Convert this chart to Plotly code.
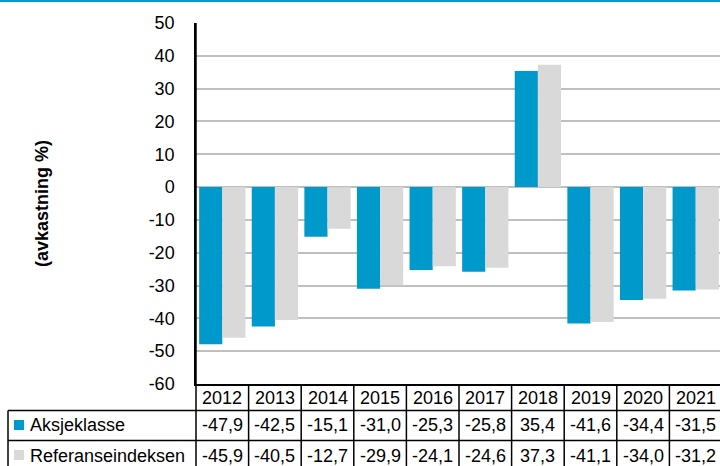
import plotly.graph_objects as go

years = ["2012", "2013", "2014", "2015", "2016", "2017", "2018", "2019", "2020", "2021"]
aksjeklasse = [-47.9, -42.5, -15.1, -31.0, -25.3, -25.8, 35.4, -41.6, -34.4, -31.5]
referanse = [-45.9, -40.5, -12.7, -29.9, -24.1, -24.6, 37.3, -41.1, -34.0, -31.2]
series_names = ["Aksjeklasse", "Referanseindeksen"]
y_title = "(avkastning %)"
y_ticks = [-60, -50, -40, -30, -20, -10, 0, 10, 20, 30, 40, 50]
y_tick_labels = ["-60", "-50", "-40", "-30", "-20", "-10", "0", "10", "20", "30", "40", "50"]

BLUE = "#0099CC"
GREY = "#D9D9D9"
FONT = "Liberation Sans, Arial, sans-serif"

W, H = 720, 466
L, R, T, B = 196, 0, 23, 82
PW, PH = W - L - R, H - T - B


def px2x(px):
    return (px - L) / PW


def px2y(py):
    return (H - B - py) / PH


def fmt(v):
    return f"{v:.1f}".replace(".", ",")


fig = go.Figure()
fig.add_trace(go.Bar(x=list(range(len(years))), y=aksjeklasse, name=series_names[0],
                     marker=dict(color=BLUE, line=dict(width=0))))
fig.add_trace(go.Bar(x=list(range(len(years))), y=referanse, name=series_names[1],
                     marker=dict(color=GREY, line=dict(width=0))))

shapes = []
# top blue rule
shapes.append(dict(type="line", xref="paper", yref="paper", x0=px2x(0), x1=px2x(W),
                   y0=px2y(1), y1=px2y(1), line=dict(color=BLUE, width=2)))
# table horizontal lines
for py in [410.5, 440.5]:
    shapes.append(dict(type="line", xref="paper", yref="paper", x0=px2x(8), x1=px2x(W),
                       y0=px2y(py), y1=px2y(py), line=dict(color="black", width=1.5)))
# left border of label column
shapes.append(dict(type="line", xref="paper", yref="paper", x0=px2x(8), x1=px2x(8),
                   y0=px2y(410.5), y1=px2y(H + 5), line=dict(color="black", width=1.5)))
# axis extension into table
shapes.append(dict(type="line", xref="paper", yref="paper", x0=0, x1=0,
                   y0=1, y1=px2y(H + 5), line=dict(color="black", width=1.5)))
# category separators in table
for i in range(1, len(years)):
    shapes.append(dict(type="line", xref="x", yref="paper", x0=i - 0.5, x1=i - 0.5,
                       y0=0, y1=px2y(H + 5), line=dict(color="black", width=1.5)))
# legend keys
for py, col in [(425, BLUE), (455, GREY)]:
    shapes.append(dict(type="rect", xref="paper", yref="paper", x0=px2x(14), x1=px2x(24),
                       y0=px2y(py - 5), y1=px2y(py + 5), fillcolor=col, line=dict(width=0)))

annotations = []
tfont = dict(family=FONT, size=18, color="black")
for i, yr in enumerate(years):
    annotations.append(dict(x=i, y=px2y(397.5), xref="x", yref="paper", text=yr,
                            showarrow=False, font=tfont, xanchor="center", yanchor="middle"))
    annotations.append(dict(x=i, y=px2y(425.5), xref="x", yref="paper", text=fmt(aksjeklasse[i]),
                            showarrow=False, font=tfont, xanchor="center", yanchor="middle"))
    annotations.append(dict(x=i, y=px2y(455.5), xref="x", yref="paper", text=fmt(referanse[i]),
                            showarrow=False, font=tfont, xanchor="center", yanchor="middle"))
for py, name in [(425.5, series_names[0]), (455.5, series_names[1])]:
    annotations.append(dict(x=px2x(28), y=px2y(py), xref="paper", yref="paper", text=name,
                            showarrow=False, font=tfont, xanchor="left", yanchor="middle"))
annotations.append(dict(x=px2x(42), y=px2y(204), xref="paper", yref="paper",
                        text="<b>" + y_title + "</b>", textangle=-90, showarrow=False,
                        font=dict(family=FONT, size=18, color="black"),
                        xanchor="center", yanchor="middle"))

fig.update_layout(
    width=W, height=H,
    margin=dict(l=L, r=R, t=T, b=B, pad=0),
    paper_bgcolor="white", plot_bgcolor="white",
    barmode="group", bargap=0.12, bargroupgap=0,
    showlegend=False,
    font=dict(family=FONT, size=18, color="black"),
    shapes=shapes, annotations=annotations,
    xaxis=dict(range=[-0.5, len(years) - 0.5 - 2 / 52.4], showticklabels=False, ticks="",
               showgrid=False, zeroline=False, showline=True, linecolor="black", linewidth=1.5,
               fixedrange=True),
    yaxis=dict(range=[-60, 50], tickmode="array", tickvals=y_ticks, ticktext=y_tick_labels,
               ticks="", ticklabelstandoff=16,
               tickfont=dict(family=FONT, size=18, color="black"),
               showgrid=True, gridcolor="#BFBFBF", gridwidth=1.5,
               zeroline=True, zerolinecolor="#BFBFBF", zerolinewidth=1.5,
               showline=True, linecolor="black", linewidth=1.5, fixedrange=True),
)

fig.write_html("out.html", config={"displayModeBar": False},
               post_script="document.body.style.margin='0';document.body.style.overflow='hidden';")
